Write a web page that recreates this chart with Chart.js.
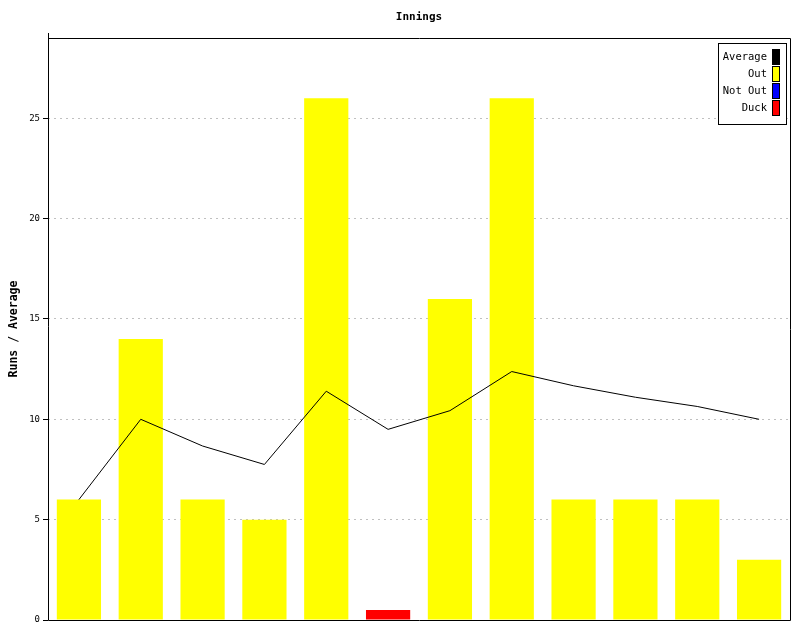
<!DOCTYPE html>
<html lang="en">
	<head>
		<meta charset="UTF-8" />
		<title>Innings</title>
		<script src="https://cdn.jsdelivr.net/npm/chart.js"></script>
		<style>
			html, body { margin: 0; padding: 0; background: #fff; }
			#wrap { width: 800px; height: 640px; }
		</style>
	</head>
	<body>
		<div id="wrap"><canvas id="innings" width="800" height="640"></canvas></div>
		<script>
			// Data
			const innings = ["1", "2", "3", "4", "5", "6", "7", "8", "9", "10", "11", "12"];
			const outRuns = [6, 14, 6, 5, 26, null, 16, 26, 6, 6, 6, 3];
			const notOutRuns = [null, null, null, null, null, null, null, null, null, null, null, null];
			const duckRuns = [null, null, null, null, null, 0.5, null, null, null, null, null, null];
			const average = [6, 10, 8.67, 7.75, 11.4, 9.5, 10.43, 12.38, 11.67, 11.1, 10.64, 10];
			const yTicks = [0, 5, 10, 15, 20, 25];

			const mono = "'DejaVu Sans Mono', monospace";

			// title, frame and legend box drawn by hand
			const decor = {
				id: "decor",
				afterDraw(chart) {
					const ctx = chart.ctx;
					const a = chart.chartArea;
					ctx.save();
					// title
					ctx.fillStyle = "#000";
					ctx.font = "bold 11px " + mono;
					ctx.textAlign = "center";
					ctx.textBaseline = "middle";
					ctx.fillText("Innings", (a.left + a.right) / 2, 17);

					// frame
					ctx.strokeStyle = "#000";
					ctx.lineWidth = 1;
					ctx.beginPath();
					ctx.moveTo(a.left + 0.5, a.top - 5);
					ctx.lineTo(a.left + 0.5, a.bottom + 0.5);
					ctx.lineTo(a.right + 0.5, a.bottom + 0.5);
					ctx.lineTo(a.right + 0.5, a.top + 0.5);
					ctx.lineTo(a.left + 0.5, a.top + 0.5);
					ctx.stroke();

					// legend
					const items = [
						{ text: "Average", color: "#000000" },
						{ text: "Out", color: "#ffff00" },
						{ text: "Not Out", color: "#0000ff" },
						{ text: "Duck", color: "#ff0000" },
					];
					const bx = a.right - 72, by = a.top + 5, bw = 68, bh = 81;
					ctx.fillStyle = "#fff";
					ctx.fillRect(bx, by, bw, bh);
					ctx.strokeRect(bx + 0.5, by + 0.5, bw, bh);
					ctx.font = "10.5px " + mono;
					ctx.textAlign = "right";
					items.forEach((it, i) => {
						const cy = by + 14 + i * 17;
						ctx.fillStyle = "#000";
						ctx.fillText(it.text, bx + 49, cy);
						ctx.fillStyle = it.color;
						ctx.fillRect(bx + 55, cy - 7, 6, 14);
						ctx.strokeStyle = "#000";
						ctx.strokeRect(bx + 54.5, cy - 7.5, 7, 15);
					});
					ctx.restore();
				},
			};

			new Chart(document.getElementById("innings"), {
				data: {
					labels: innings,
					datasets: [
						{
							type: "line",
							label: "Average",
							data: average,
							borderColor: "#000",
							borderWidth: 1,
							pointRadius: 0,
							tension: 0,
							fill: false,
						},
						{ type: "bar", label: "Out", data: outRuns, backgroundColor: "#ffff00" },
						{ type: "bar", label: "Not Out", data: notOutRuns, backgroundColor: "#0000ff" },
						{ type: "bar", label: "Duck", data: duckRuns, backgroundColor: "#ff0000" },
					],
				},
				options: {
					responsive: false,
					animation: false,
					devicePixelRatio: 1,
					layout: { padding: { top: 38, right: 10, bottom: 20, left: 0 } },
					datasets: { bar: { barPercentage: 0.715, categoryPercentage: 1 } },
					plugins: {
						legend: { display: false },
						tooltip: { enabled: false },
					},
					scales: {
						x: {
							stacked: true,
							ticks: { display: false },
							grid: { display: false, drawTicks: false },
							border: { display: false },
							afterFit(scale) {
								scale.height = 0;
							},
						},
						y: {
							min: 0,
							max: 29,
							afterBuildTicks(scale) {
								scale.ticks = yTicks.map((v) => ({ value: v }));
							},
							ticks: {
								color: "#000",
								font: { family: mono, size: 9 },
								padding: 3,
							},
							grid: {
								color: "#c0c0c0",
								tickColor: "#000",
								tickLength: 5,
								tickBorderDash: [],
							},
							border: { display: false, dash: [2, 4] },
							title: {
								display: true,
								text: "Runs / Average",
								color: "#000",
								font: { family: mono, size: 11.5, weight: "bold" },
								padding: { top: 7, bottom: 0 },
							},
							afterFit(scale) {
								scale.width = 48;
							},
						},
					},
				},
				plugins: [decor],
			});
		</script>
	</body>
</html>
